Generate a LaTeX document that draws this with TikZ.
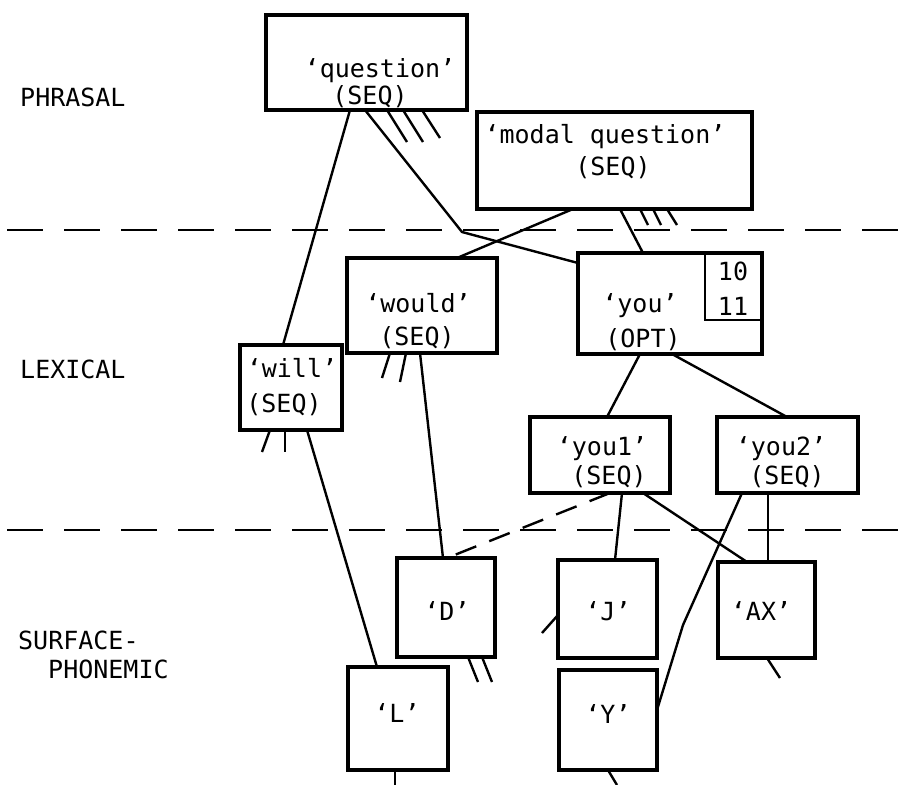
\documentclass[tikz,border=0pt]{standalone}
\usepackage{fontspec}
\newfontfamily\mono{DejaVu Sans Mono}
\begin{document}
\begin{tikzpicture}[x=1pt,y=-1pt,
  box/.style={draw, line width=3.6pt, fill=white, inner sep=0pt, outer sep=0pt},
  numbox/.style={draw, line width=2pt, inner sep=0pt, outer sep=0pt},
  lbl/.style={font=\mono\fontsize{25}{30}\selectfont, anchor=base, inner sep=0pt},
  lvl/.style={font=\mono\fontsize{25}{30}\selectfont, anchor=base west, inner sep=0pt},
  conn/.style={line width=2.4pt},
  dconn/.style={line width=2.4pt, dash pattern=on 22pt off 14pt},
  layer/.style={line width=2.6pt, dash pattern=on 36pt off 21pt}]
\useasboundingbox (0,0) rectangle (906,785);
% layer separators
\draw[layer] (7,230) -- (906,230);
\draw[layer] (7,530) -- (906,530);
% level labels
\node[lvl] (lphr) at (20,106) {PHRASAL};
\node[lvl] (llex) at (20,378) {LEXICAL};
\node[lvl] (lsur) at (18,649) {SURFACE-};
\node[lvl] (lpho) at (48,678) {PHONEMIC};
% boxes
\node[box, minimum width=201pt, minimum height=95pt] (q) at (366.5,62.5) {};
\node[box, minimum width=275pt, minimum height=97pt] (mq) at (614.5,160.5) {};
\node[box, minimum width=150pt, minimum height=95pt] (wo) at (422,305.5) {};
\node[box, minimum width=102pt, minimum height=85pt] (wi) at (291,387.5) {};
\node[box, minimum width=184pt, minimum height=101pt] (yo) at (670,303.5) {};
\node[numbox, minimum width=57pt, minimum height=67pt] (num) at (733.5,286.5) {};
\node[box, minimum width=140pt, minimum height=76pt] (ya) at (600,455) {};
\node[box, minimum width=141pt, minimum height=76pt] (yb) at (787.5,455) {};
\node[box, minimum width=98pt, minimum height=99pt] (pd) at (446,607.5) {};
\node[box, minimum width=99pt, minimum height=98pt] (pj) at (607.5,609) {};
\node[box, minimum width=97pt, minimum height=96pt] (pax) at (766.5,610) {};
\node[box, minimum width=100pt, minimum height=103pt] (pl) at (398,718.5) {};
\node[box, minimum width=98pt, minimum height=100pt] (py) at (608,720) {};
% texts
\node[lbl] (qt1) at (380,77) {‘question’};
\node[lbl] (qt2) at (370,104) {(SEQ)};
\node[lbl] (mqt1) at (605,143) {‘modal question’};
\node[lbl] (mqt2) at (613,175) {(SEQ)};
\node[lbl] (wot1) at (418,312) {‘would’};
\node[lbl] (wot2) at (417,345) {(SEQ)};
\node[lbl] (wit1) at (292,377) {‘will’};
\node[lbl] (wit2) at (284,412) {(SEQ)};
\node[lbl] (yot1) at (640,312) {‘you’};
\node[lbl] (yot2) at (643,347) {(OPT)};
\node[lbl] (n1) at (733,280) {10};
\node[lbl] (n2) at (733,315) {11};
\node[lbl] (yat1) at (602,455) {‘you1’};
\node[lbl] (yat2) at (609,484) {(SEQ)};
\node[lbl] (ybt1) at (781,455) {‘you2’};
\node[lbl] (ybt2) at (787,484) {(SEQ)};
\node[lbl] (pdt) at (447,620) {‘D’};
\node[lbl] (pjt) at (608,620) {‘J’};
\node[lbl] (paxt) at (761,620) {‘AX’};
\node[lbl] (plt) at (397,722) {‘L’};
\node[lbl] (pyt) at (608,723) {‘Y’};
% free bend points
\coordinate (bq) at (462,232);
\coordinate (by) at (683,625);
% connectors
\draw[conn] (350,0 |- q.south) -- (283,0 |- wi.north);
\draw[conn] (365,0 |- q.south) -- (bq) -- (yo.west |- 0,263);
\draw[conn] (387,0 |- q.south) -- ++(20,32);
\draw[conn] (403,0 |- q.south) -- ++(20,32);
\draw[conn] (422,0 |- q.south) -- ++(18,28);
\draw[conn] (573,0 |- mq.south) -- (457,0 |- wo.north);
\draw[conn] (620,0 |- mq.south) -- (643,0 |- yo.north);
\draw[conn] (640,0 |- mq.south) -- ++(8,16);
\draw[conn] (653,0 |- mq.south) -- ++(8,16);
\draw[conn] (667,0 |- mq.south) -- ++(10,16);
\draw[conn] (640,0 |- yo.south) -- (607,0 |- ya.north);
\draw[conn] (672,0 |- yo.south) -- (787,0 |- yb.north);
\draw[conn] (420,0 |- wo.south) -- (443,0 |- pd.north);
\draw[conn] (390,0 |- wo.south) -- ++(-8,25);
\draw[conn] (406,0 |- wo.south) -- ++(-6,29);
\draw[conn] (307,0 |- wi.south) -- (377,0 |- pl.north);
\draw[conn] (270,0 |- wi.south) -- ++(-8,22);
\draw[conn] (285,0 |- wi.south) -- ++(0,22);
\draw[dconn] (610,0 |- ya.south) -- (447,0 |- pd.north);
\draw[conn] (622,0 |- ya.south) -- (615,0 |- pj.north);
\draw[conn] (643,0 |- ya.south) -- (747,0 |- pax.north);
\draw[conn] (768,0 |- yb.south) -- (768,0 |- pax.north);
\draw[conn] (742,0 |- yb.south) -- (by) -- (py.east |- 0,710);
\draw[conn] (pj.west |- 0,615) -- ++(-16,18);
\draw[conn] (468,0 |- pd.south) -- ++(10,25);
\draw[conn] (482,0 |- pd.south) -- ++(10,25);
\draw[conn] (767,0 |- pax.south) -- ++(13,20);
\draw[conn] (395,0 |- pl.south) -- ++(0,15);
\draw[conn] (608,0 |- py.south) -- ++(9,15);
\end{tikzpicture}
\end{document}
